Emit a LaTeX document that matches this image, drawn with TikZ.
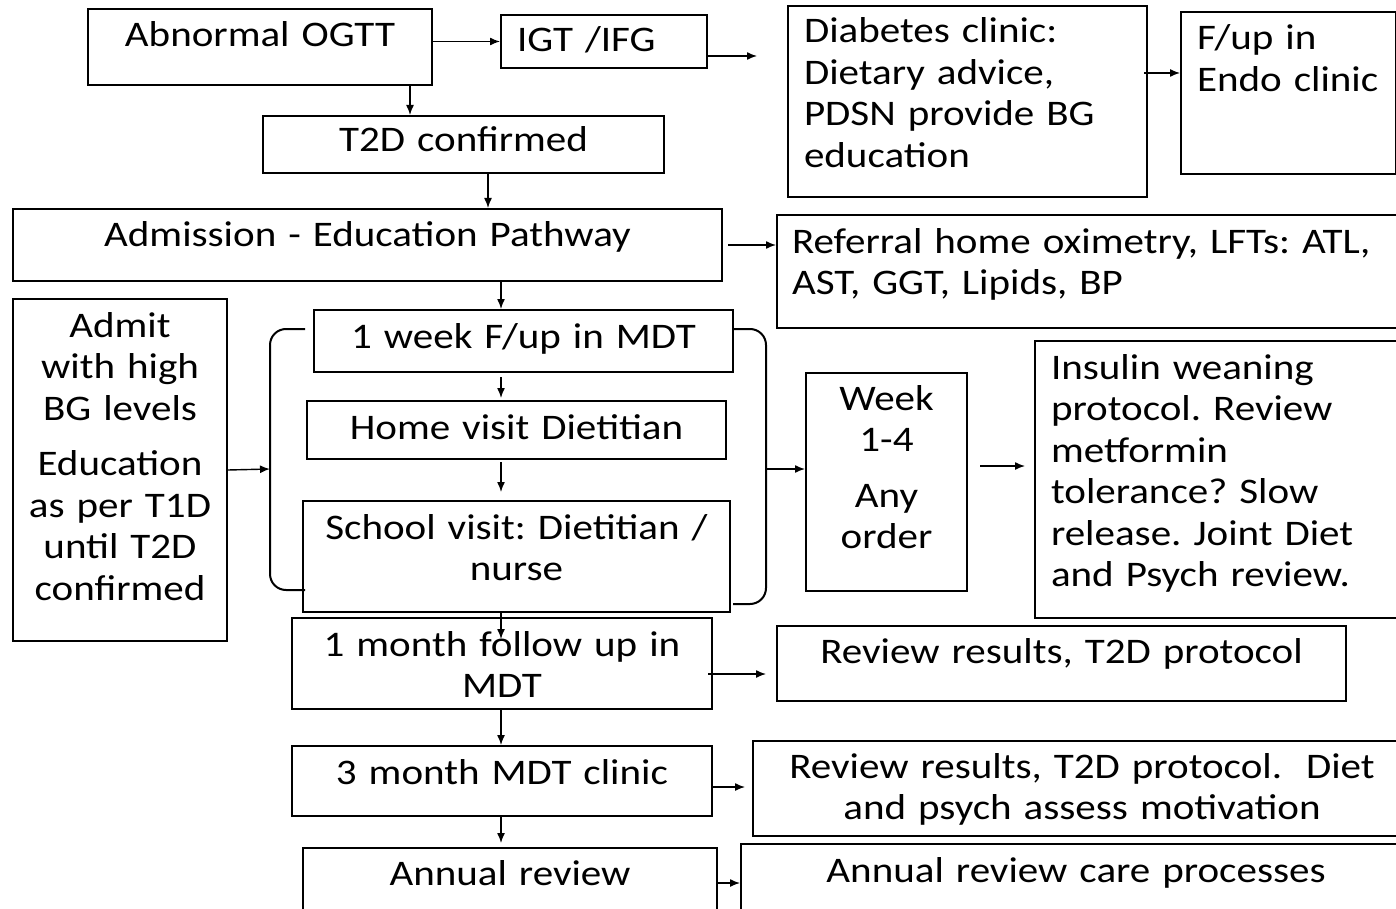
\documentclass[tikz,border=0pt]{standalone}
\usepackage{fontspec}
\setmainfont{Carlito}[FakeStretch=1.14]
\usetikzlibrary{arrows.meta}
\frenchspacing

\begin{document}
\begin{tikzpicture}[
  x=0.5pt, y=-0.5pt,
  font=\fontsize{18}{20.75}\selectfont,
  box/.style={draw, line width=1pt, anchor=north west, inner sep=0pt, align=center},
  lbox/.style={box, align=left},
  arrow/.style={-{Latex[length=5pt,width=4pt]}, line width=0.7pt},
  brace/.style={line width=1pt, rounded corners=8pt}
]
\useasboundingbox (0,0) rectangle (1396,909);
\clip (0,0) rectangle (1396,909);

% top row
\node[box, text width=172pt, text height=19pt, text depth=19pt] (ogtt) at (87,8) {Abnormal OGTT};
\node[lbox, inner xsep=8pt, text width=87pt, text height=18.5pt, text depth=8pt] (igt) at (500,14) {IGT /IFG};
\node[lbox, inner xsep=8pt, text width=163.5pt, text height=18.5pt, text depth=77pt] (clinic) at (787,5) {Diabetes clinic:\\Dietary advice,\\PDSN provide BG\\education};
\node[lbox, inner xsep=8pt, text width=91.5pt, text height=19pt, text depth=62pt] (endo) at (1180,11) {F/up in\\\mbox{Endo clinic}};
\node[box, text width=200.5pt, text height=18pt, text depth=10.5pt] (t2d) at (262,115) {T2D confirmed};
\node[box, text width=354.5pt, text height=19pt, text depth=17pt] (admission) at (12,208) {Admission - Education Pathway};
\node[lbox, inner xsep=7.5pt, text width=302pt, text height=19pt, text depth=37.5pt] (referral) at (776,214) {Referral home oximetry, LFTs: ATL,\\AST, GGT, Lipids, BP};

% first month
\node[box, text width=107pt, text height=19pt, text depth=152pt] (admit) at (12,298) {Admit\\with high\\BG levels\\[7pt]Education\\as per T1D\\until T2D\\confirmed};
\node[box, text width=209.5pt, text height=19pt, text depth=12pt] (week1) at (313,309) {1 week F/up in MDT};
\node[box, text width=209.5pt, text height=19pt, text depth=10pt] (home) at (306,400) {Home visit Dietitian};
\node[box, text width=213.5pt, text height=19pt, text depth=36.5pt] (school) at (302,500) {School visit: Dietitian /\\nurse};
\node[box, text width=80.5pt, text height=18.5pt, text depth=90.5pt] (weeks) at (805,372) {Week\\1-4\\[7pt]Any\\order};
\node[lbox, inner xsep=8pt, text width=172pt, text height=19pt, text depth=119.5pt] (insulin) at (1034,340) {Insulin weaning\\protocol. Review\\metformin\\tolerance? Slow\\release. Joint Diet\\and Psych review.};

% follow up
\node[box, text width=210pt, text height=19pt, text depth=26.5pt] (month1) at (291,617) {1 month follow up in\\MDT};
\node[box, text width=284.5pt, text height=18.5pt, text depth=19pt] (review1) at (776,625) {Review results, T2D protocol};
\node[box, text width=210pt, text height=19pt, text depth=16pt] (month3) at (291,745) {3 month MDT clinic};
\node[box, text width=329pt, text height=18.5pt, text depth=29pt] (review2) at (752,740) {Review results, T2D protocol.~ Diet\\and psych assess motivation};
\node[box, text width=207pt, text height=18.5pt, text depth=18pt] (annual) at (302,847) {Annual review};
\node[box, text width=335pt, text height=19pt, text depth=19.5pt] (care) at (740,843) {Annual review care processes};

% brackets round the week 1-4 visits
\coordinate (spine) at (501,0);
\coordinate (lbr) at (270,469);
\coordinate (rbr) at (766,469);
\coordinate (igtend) at (757,56);
\draw[brace] (305,329) -- (270,329) -- (270,590) -- (305,590);
\draw[brace] (733,329) -- (766,329) -- (766,604) -- (733,604);

\draw[arrow] (ogtt.east |- igt.west) -- (igt.west);
\draw[arrow] (igt.east |- igtend) -- (igtend);
\draw[arrow] ([xshift=-2pt]clinic.east |- 0,73) -- (endo.west |- 0,73);
\draw[arrow] (ogtt.south -| 410,0) -- (t2d.north -| 410,0);
\draw[arrow] (t2d.south -| 488,0) -- (admission.north -| 488,0);
\draw[arrow] ([xshift=2.5pt]admission.east |- 0,245) -- (referral.west |- 0,245);
\draw[arrow] (admission.south -| spine) -- (week1.north -| spine);
\draw[arrow] ([yshift=-2pt]week1.south -| spine) -- ([yshift=1pt]home.north -| spine);
\draw[arrow] ([yshift=-1pt]home.south -| spine) -- ([yshift=4pt]school.north -| spine);
\draw[arrow] (school.south -| spine) -- ([yshift=-11pt]month1.north -| spine);
\draw[arrow] (admit.east) -- (lbr);
\draw[arrow] (rbr) -- (weeks.west |- rbr);
\draw[arrow] ([xshift=6pt]weeks.east |- 0,466) -- ([xshift=-4.5pt]insulin.west |- 0,466);
\draw[arrow] ([xshift=-2.5pt]month1.east |- 0,674) -- ([xshift=-5pt]review1.west |- 0,674);
\draw[arrow] (month1.south -| spine) -- (month3.north -| spine);
\draw[arrow] (month3.east |- 0,787) -- ([xshift=-3.5pt]review2.west |- 0,787);
\draw[arrow] (month3.south -| spine) -- ([yshift=2pt]annual.north -| spine);
\draw[arrow] (annual.east |- 0,883) -- (care.west |- 0,883);

\end{tikzpicture}
\end{document}
